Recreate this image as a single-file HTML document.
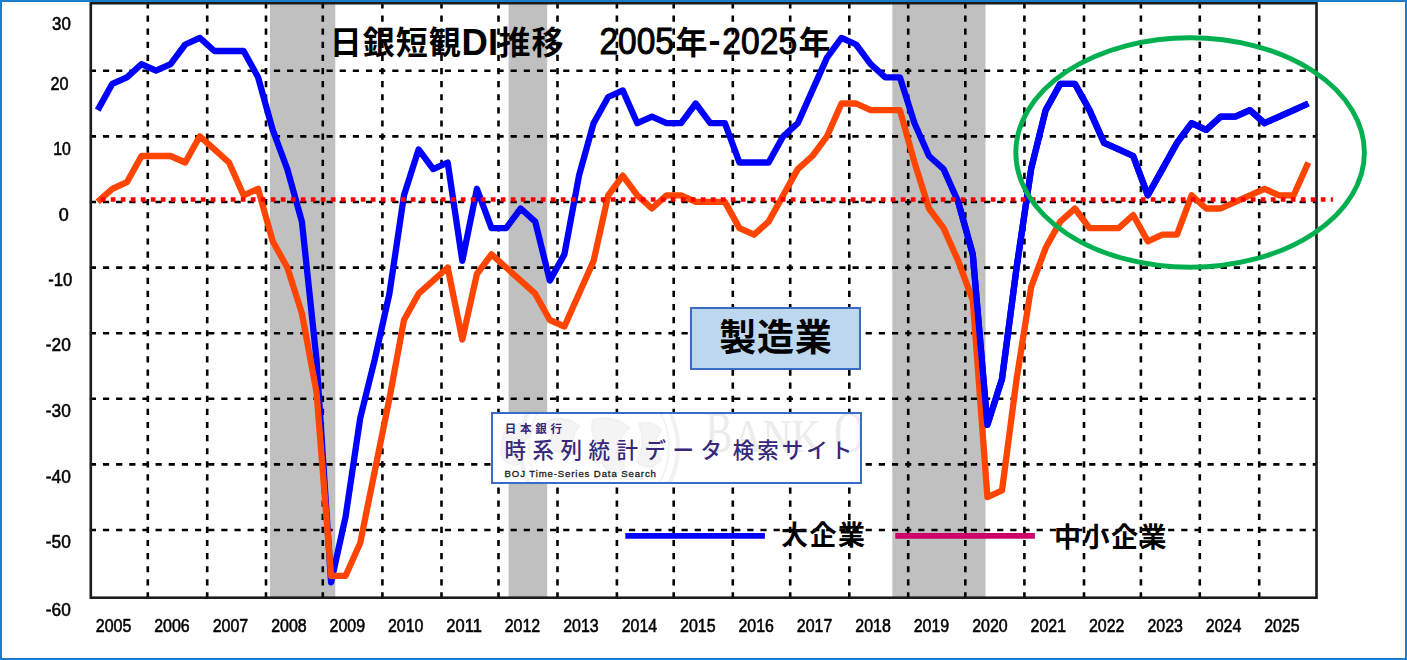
<!DOCTYPE html>
<html lang="ja">
<head>
<meta charset="utf-8">
<title>日銀短観DI推移 2005年-2025年</title>
<style>
html,body{margin:0;padding:0;background:#fff;}
body{width:1407px;height:660px;position:relative;overflow:hidden;font-family:"Liberation Sans","Noto Sans CJK JP",sans-serif;}
.frame{position:absolute;left:0;top:0;width:1403px;height:656px;border:2px solid #1c7ccb;}
.t{position:absolute;white-space:nowrap;color:#000;line-height:1;}
.mfg{position:absolute;left:690px;top:307px;width:167px;height:59px;background:#bdd7ee;border:2px solid #3c6bc6;text-align:center;font-size:37px;font-weight:700;line-height:59px;letter-spacing:.7px;text-indent:.7px;}
.boj{position:absolute;left:491.4px;top:412.4px;width:366.5px;height:67.4px;background:#fff;border:2px solid #3c6bc6;overflow:hidden;}
.boj .a{position:absolute;left:11.4px;top:9.3px;font-size:11.5px;letter-spacing:3.7px;color:#38277a;font-weight:700;}
.boj .b{position:absolute;top:26.6px;font-size:21.5px;color:#38277a;font-weight:500;}
.boj .c{position:absolute;left:11.2px;top:54.6px;font-size:9.6px;letter-spacing:.88px;color:#1a1a1a;-webkit-text-stroke:.3px #1a1a1a;}
.lg{font-size:27px;font-weight:700;letter-spacing:1.5px;}
</style>
</head>
<body>
<svg width="1407" height="660" viewBox="0 0 1407 660" style="position:absolute;left:0;top:0">
<defs><filter id="soft" x="-2%" y="-2%" width="104%" height="104%"><feGaussianBlur stdDeviation="0.45"/></filter></defs>
<g filter="url(#soft)">
<rect x="270" y="3.2" width="65.3" height="594.5" fill="#c0c0c0"/>
<rect x="508.6" y="3.2" width="38.6" height="594.5" fill="#c0c0c0"/>
<rect x="892.3" y="3.2" width="93.2" height="594.5" fill="#c0c0c0"/>
<g stroke="#000" stroke-width="2.6" stroke-dasharray="6.2 6.95" fill="none">
<line x1="147.8" y1="2.4" x2="147.8" y2="597.7" stroke-dasharray="6.2 6.91"/>
<line x1="207.2" y1="2.4" x2="207.2" y2="597.7" stroke-dasharray="6.2 6.91"/>
<line x1="266" y1="2.4" x2="266" y2="597.7" stroke-dasharray="6.2 6.91"/>
<line x1="322.8" y1="2.4" x2="322.8" y2="597.7" stroke-dasharray="6.2 6.91"/>
<line x1="382.4" y1="2.4" x2="382.4" y2="597.7" stroke-dasharray="6.2 6.91"/>
<line x1="441.5" y1="2.4" x2="441.5" y2="597.7" stroke-dasharray="6.2 6.91"/>
<line x1="498.5" y1="2.4" x2="498.5" y2="597.7" stroke-dasharray="6.2 6.91"/>
<line x1="557.5" y1="2.4" x2="557.5" y2="597.7" stroke-dasharray="6.2 6.91"/>
<line x1="616.9" y1="2.4" x2="616.9" y2="597.7" stroke-dasharray="6.2 6.91"/>
<line x1="673.7" y1="2.4" x2="673.7" y2="597.7" stroke-dasharray="6.2 6.91"/>
<line x1="732.8" y1="2.4" x2="732.8" y2="597.7" stroke-dasharray="6.2 6.91"/>
<line x1="790.2" y1="2.4" x2="790.2" y2="597.7" stroke-dasharray="6.2 6.91"/>
<line x1="849.3" y1="2.4" x2="849.3" y2="597.7" stroke-dasharray="6.2 6.91"/>
<line x1="908.2" y1="2.4" x2="908.2" y2="597.7" stroke-dasharray="6.2 6.91"/>
<line x1="965.3" y1="2.4" x2="965.3" y2="597.7" stroke-dasharray="6.2 6.91"/>
<line x1="1024.4" y1="2.4" x2="1024.4" y2="597.7" stroke-dasharray="6.2 6.91"/>
<line x1="1084" y1="2.4" x2="1084" y2="597.7" stroke-dasharray="6.2 6.91"/>
<line x1="1140.9" y1="2.4" x2="1140.9" y2="597.7" stroke-dasharray="6.2 6.91"/>
<line x1="1199.8" y1="2.4" x2="1199.8" y2="597.7" stroke-dasharray="6.2 6.91"/>
<line x1="1259.2" y1="2.4" x2="1259.2" y2="597.7" stroke-dasharray="6.2 6.91"/>
<line x1="89.8" y1="70.8" x2="1316.5" y2="70.8"/>
<line x1="89.8" y1="136.4" x2="1316.5" y2="136.4"/>
<line x1="89.8" y1="202.0" x2="1316.5" y2="202.0"/>
<line x1="89.8" y1="267.6" x2="1316.5" y2="267.6"/>
<line x1="89.8" y1="333.2" x2="1316.5" y2="333.2"/>
<line x1="89.8" y1="398.8" x2="1316.5" y2="398.8"/>
<line x1="89.8" y1="464.4" x2="1316.5" y2="464.4"/>
<line x1="89.8" y1="530.0" x2="1316.5" y2="530.0"/>
</g>
<rect x="90.8" y="3.2" width="1225.7" height="594.5" fill="none" stroke="#1c1c1c" stroke-width="2.6"/>
<polyline points="97.7,110.1 112.3,83.8 126.9,77.3 141.5,64.2 156.0,70.7 170.6,64.2 185.2,44.5 199.8,37.9 214.4,51.0 229.0,51.0 243.6,51.0 258.1,77.3 272.7,129.8 287.3,169.1 301.9,221.6 316.5,359.3 331.1,582.3 345.6,516.7 360.2,418.3 374.8,359.3 389.4,293.7 404.0,195.3 418.6,149.4 433.2,169.1 447.7,162.5 462.3,260.9 476.9,188.8 491.5,228.1 506.1,228.1 520.7,208.5 535.2,221.6 549.8,280.6 564.4,254.4 579.0,175.7 593.6,123.2 608.2,97.0 622.8,90.4 637.3,123.2 651.9,116.6 666.5,123.2 681.1,123.2 695.7,103.5 710.3,123.2 724.9,123.2 739.4,162.5 754.0,162.5 768.6,162.5 783.2,136.3 797.8,123.2 812.4,90.4 827.0,57.6 841.5,37.9 856.1,44.5 870.7,64.2 885.3,77.3 899.9,77.3 914.5,123.2 929.0,156.0 943.6,169.1 958.2,201.9 972.8,254.4 987.4,424.9 1002.0,379.0 1016.6,267.5 1031.1,169.1 1045.7,110.1 1060.3,83.8 1074.9,83.8 1089.5,110.1 1104.1,142.9 1118.7,149.4 1133.2,156.0 1147.8,195.3 1162.4,169.1 1177.0,142.9 1191.6,123.2 1206.2,129.8 1220.7,116.6 1235.3,116.6 1249.9,110.1 1264.5,123.2 1279.1,116.6 1293.7,110.1 1308.3,103.5" fill="none" stroke="#0000ff" stroke-width="6.3" stroke-linejoin="round"/>
<polyline points="97.7,201.9 112.3,188.8 126.9,182.2 141.5,156.0 156.0,156.0 170.6,156.0 185.2,162.5 199.8,136.3 214.4,149.4 229.0,162.5 243.6,195.3 258.1,188.8 272.7,241.3 287.3,267.5 301.9,313.4 316.5,392.1 331.1,575.8 345.6,575.8 360.2,543.0 374.8,470.8 389.4,398.7 404.0,320.0 418.6,293.7 433.2,280.6 447.7,267.5 462.3,339.6 476.9,274.0 491.5,254.4 506.1,267.5 520.7,280.6 535.2,293.7 549.8,320.0 564.4,326.5 579.0,293.7 593.6,260.9 608.2,195.3 622.8,175.7 637.3,195.3 651.9,208.5 666.5,195.3 681.1,195.3 695.7,201.9 710.3,201.9 724.9,201.9 739.4,228.1 754.0,234.7 768.6,221.6 783.2,195.3 797.8,169.1 812.4,156.0 827.0,136.3 841.5,103.5 856.1,103.5 870.7,110.1 885.3,110.1 899.9,110.1 914.5,162.5 929.0,208.5 943.6,228.1 958.2,260.9 972.8,300.3 987.4,497.1 1002.0,490.5 1016.6,379.0 1031.1,287.2 1045.7,247.8 1060.3,221.6 1074.9,208.5 1089.5,228.1 1104.1,228.1 1118.7,228.1 1133.2,215.0 1147.8,241.3 1162.4,234.7 1177.0,234.7 1191.6,195.3 1206.2,208.5 1220.7,208.5 1235.3,201.9 1249.9,195.3 1264.5,188.8 1279.1,195.3 1293.7,195.3 1308.3,162.5" fill="none" stroke="#ff4500" stroke-width="6.3" stroke-linejoin="round"/>
<polyline points="958.2,201.9 972.8,254.4 987.4,424.9 1002.0,379.0 1016.6,267.5 1031.1,169.1 1045.7,110.1 1060.3,83.8 1074.9,83.8 1089.5,110.1 1104.1,142.9 1118.7,149.4 1133.2,156.0 1147.8,195.3 1162.4,169.1 1177.0,142.9 1191.6,123.2 1206.2,129.8 1220.7,116.6 1235.3,116.6 1249.9,110.1 1264.5,123.2 1279.1,116.6 1293.7,110.1 1308.3,103.5" fill="none" stroke="#0000ff" stroke-width="6.3" stroke-linejoin="round"/>
</g>
<line x1="100.8" y1="199.5" x2="1333" y2="199.5" stroke="#ff0000" stroke-width="4.7" stroke-dasharray="4.7 5.3"/>
<ellipse cx="1190.1" cy="152.5" rx="174.3" ry="114.8" fill="none" stroke="#00b050" stroke-width="4.9"/>
<g filter="url(#soft)" font-family="'Liberation Sans', sans-serif" font-size="18" fill="#000" stroke="#000" stroke-width="0.55" text-anchor="middle">
<text x="61.5" y="30.4" textLength="18.8" lengthAdjust="spacingAndGlyphs">30</text>
<text x="59.5" y="90.0" textLength="18" lengthAdjust="spacingAndGlyphs">20</text>
<text x="62" y="155.2" textLength="17.6" lengthAdjust="spacingAndGlyphs">10</text>
<text x="63.7" y="220.8" textLength="10" lengthAdjust="spacingAndGlyphs">0</text>
<text x="60.2" y="286.4" textLength="24" lengthAdjust="spacingAndGlyphs">-10</text>
<text x="58.3" y="351.0" textLength="25" lengthAdjust="spacingAndGlyphs">-20</text>
<text x="58.3" y="417.3" textLength="25" lengthAdjust="spacingAndGlyphs">-30</text>
<text x="58.3" y="482.8" textLength="25" lengthAdjust="spacingAndGlyphs">-40</text>
<text x="58.3" y="548.2" textLength="25" lengthAdjust="spacingAndGlyphs">-50</text>
<text x="58.3" y="615.7" textLength="25" lengthAdjust="spacingAndGlyphs">-60</text>
<text x="113.6" y="631.8" textLength="35.5" lengthAdjust="spacingAndGlyphs">2005</text>
<text x="172.0" y="631.8" textLength="35.5" lengthAdjust="spacingAndGlyphs">2006</text>
<text x="230.4" y="631.8" textLength="35.5" lengthAdjust="spacingAndGlyphs">2007</text>
<text x="288.9" y="631.8" textLength="35.5" lengthAdjust="spacingAndGlyphs">2008</text>
<text x="347.3" y="631.8" textLength="35.5" lengthAdjust="spacingAndGlyphs">2009</text>
<text x="405.7" y="631.8" textLength="35.5" lengthAdjust="spacingAndGlyphs">2010</text>
<text x="464.1" y="631.8" textLength="35.5" lengthAdjust="spacingAndGlyphs">2011</text>
<text x="522.5" y="631.8" textLength="35.5" lengthAdjust="spacingAndGlyphs">2012</text>
<text x="581.0" y="631.8" textLength="35.5" lengthAdjust="spacingAndGlyphs">2013</text>
<text x="639.4" y="631.8" textLength="35.5" lengthAdjust="spacingAndGlyphs">2014</text>
<text x="697.8" y="631.8" textLength="35.5" lengthAdjust="spacingAndGlyphs">2015</text>
<text x="756.2" y="631.8" textLength="35.5" lengthAdjust="spacingAndGlyphs">2016</text>
<text x="814.6" y="631.8" textLength="35.5" lengthAdjust="spacingAndGlyphs">2017</text>
<text x="873.1" y="631.8" textLength="35.5" lengthAdjust="spacingAndGlyphs">2018</text>
<text x="931.5" y="631.8" textLength="35.5" lengthAdjust="spacingAndGlyphs">2019</text>
<text x="989.9" y="631.8" textLength="35.5" lengthAdjust="spacingAndGlyphs">2020</text>
<text x="1048.3" y="631.8" textLength="35.5" lengthAdjust="spacingAndGlyphs">2021</text>
<text x="1106.7" y="631.8" textLength="35.5" lengthAdjust="spacingAndGlyphs">2022</text>
<text x="1165.2" y="631.8" textLength="35.5" lengthAdjust="spacingAndGlyphs">2023</text>
<text x="1223.6" y="631.8" textLength="35.5" lengthAdjust="spacingAndGlyphs">2024</text>
<text x="1282.0" y="631.8" textLength="35.5" lengthAdjust="spacingAndGlyphs">2025</text>
</g>
<g font-family="'Liberation Sans','Noto Sans CJK JP',sans-serif" font-weight="700" fill="#000">
<text x="329.8" y="53.7" font-size="32" letter-spacing="1">日銀短観</text>
<text x="461.6" y="54.6" font-size="36.5">DI</text>
<text x="498.6" y="53.7" font-size="32" letter-spacing="1">推移</text>
<text x="675.6" y="53.7" font-size="32">年</text>
<text x="798.6" y="53.7" font-size="32">年</text>
<text x="708.6" y="51.7" font-size="33" textLength="12" lengthAdjust="spacingAndGlyphs">-</text>
</g>
<g font-family="'Liberation Sans','Noto Sans CJK JP',sans-serif" font-weight="400" fill="#000" stroke="#000" stroke-width="1" font-size="36">
<text x="599.4" y="53.6" textLength="74.5" lengthAdjust="spacingAndGlyphs">2005</text>
<text x="722.3" y="53.6" textLength="74.8" lengthAdjust="spacingAndGlyphs">2025</text>
</g>
<line x1="625.3" y1="535.9" x2="764.9" y2="535.9" stroke="#0000ff" stroke-width="5.9"/>
<line x1="895.3" y1="535.9" x2="1034.9" y2="535.9" stroke="#cc0066" stroke-width="5.9"/>
</svg>
<div class="mfg">製造業</div>
<div class="boj">
  <svg width="367" height="68" viewBox="0 0 367 68" style="position:absolute;left:0;top:0">
    <g fill="none" stroke="#f1f1f1">
      <circle cx="106" cy="33" r="79" stroke-width="4"/>
      <circle cx="106" cy="33" r="70" stroke-width="1.5"/>
      <path d="M10 20 q14 -16 30 -6 q-4 14 -20 16 q14 6 8 20 q-14 4 -20 -10z M52 8 q20 -8 34 4 q-10 12 -2 26 q-18 6 -28 -8 q8 -10 -4 -22z M100 6 q22 -6 36 8 q-12 8 -6 24 q6 14 -8 24 q-16 -8 -12 -26 q-14 -12 -10 -30z M146 10 q14 -4 22 6 q-10 14 0 30 q-12 12 -24 2 q10 -18 2 -38z" fill="#f4f4f4" stroke-width="2"/>
    </g>
    <g font-family="'Liberation Serif',serif" fill="#ececec">
      <text x="212.3" y="38.2" font-size="59" textLength="27.5" lengthAdjust="spacingAndGlyphs">B</text>
      <text x="240.4" y="38.2" font-size="47" textLength="87" lengthAdjust="spacingAndGlyphs">ANK</text>
      <text x="341.1" y="38.2" font-size="59" textLength="31" lengthAdjust="spacingAndGlyphs">O</text>
    </g>
  </svg>
  <div class="t a">日本銀行</div>
  <div class="t b" style="left:11.2px;letter-spacing:6.5px;">時系列統計データ</div>
  <div class="t b" style="left:239.4px;letter-spacing:3px;">検索サイト</div>
  <div class="t c">BOJ Time-Series Data Search</div>
</div>
<div class="t lg" style="left:781px;top:523px;">大企業</div>
<div class="t lg" style="left:1054px;top:525.2px;">中小企業</div>
<div class="frame"></div>
</body>
</html>
